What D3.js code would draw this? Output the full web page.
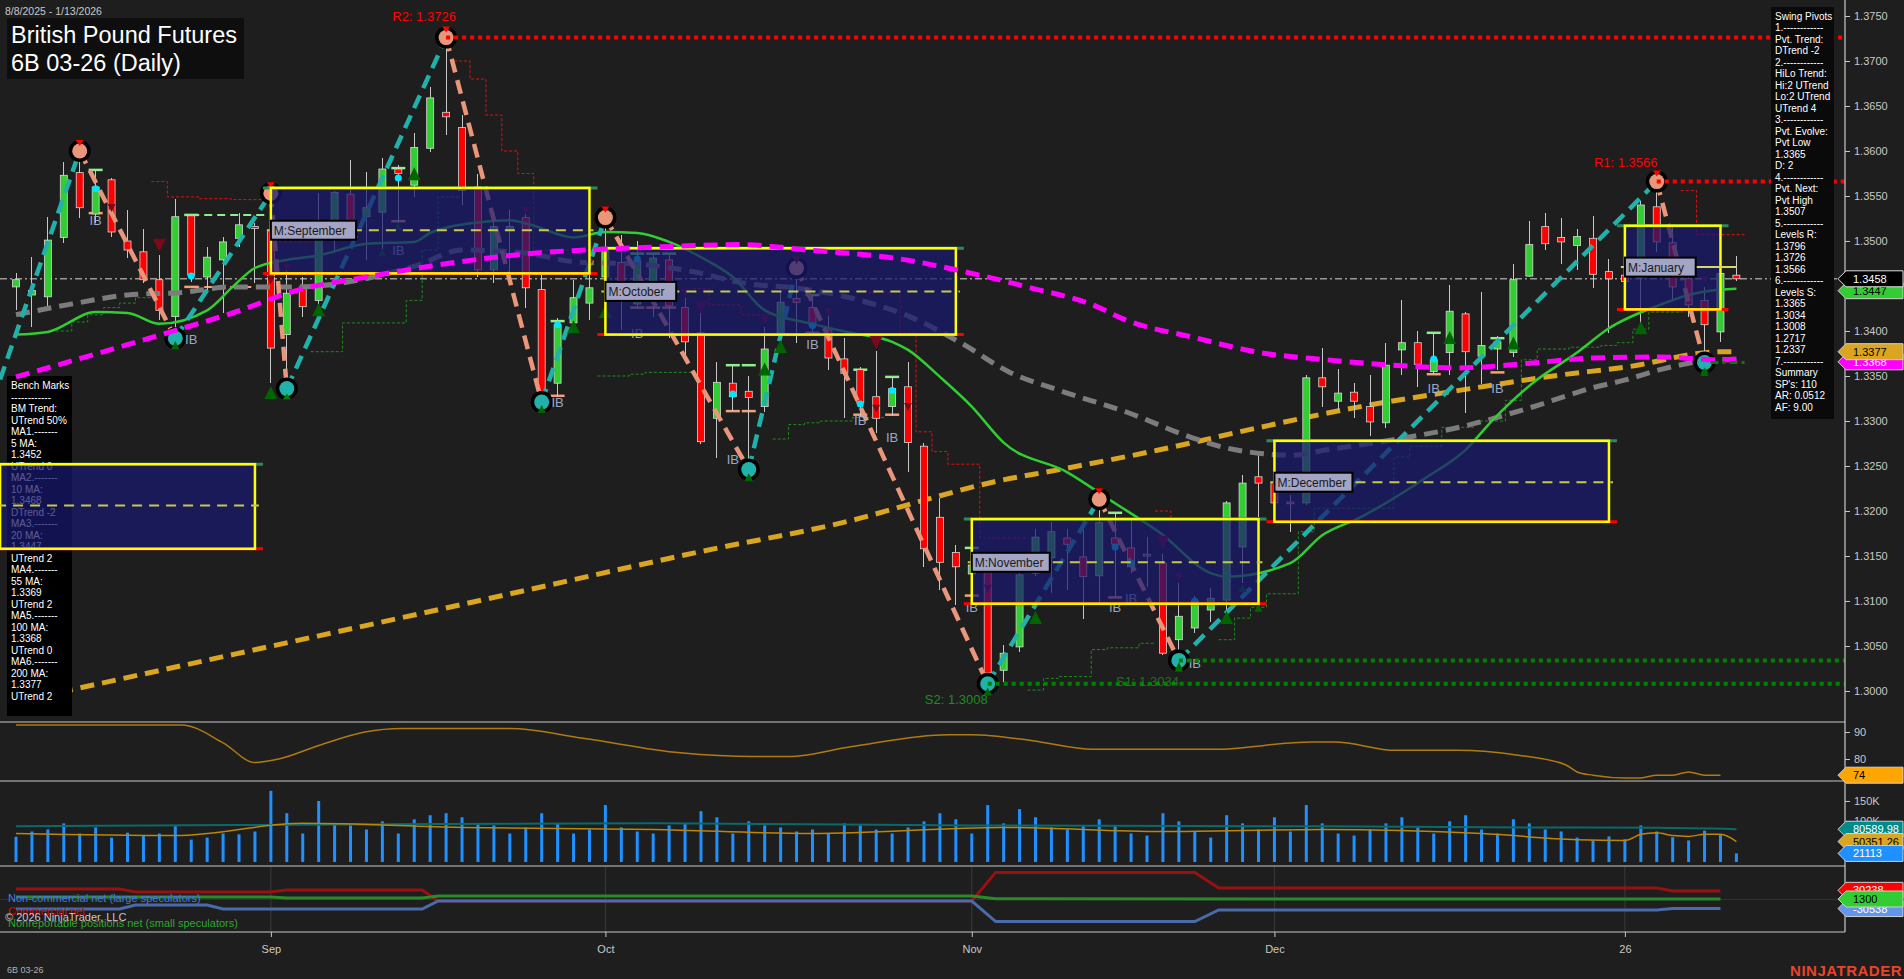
<!DOCTYPE html>
<html><head><meta charset="utf-8">
<script src="https://cdn.jsdelivr.net/npm/d3@7"></script>
<style>
body{margin:0;background:#1e1e1e;overflow:hidden}
svg{display:block}
text{font-family:"Liberation Sans",Arial,sans-serif}
</style></head>
<body><svg id="c" width="1904" height="979"></svg>
<script>
// ---------------- DATA ----------------
const dates = ["2025-08-08","2025-08-11","2025-08-12","2025-08-13","2025-08-14","2025-08-15","2025-08-18","2025-08-19","2025-08-20","2025-08-21","2025-08-22","2025-08-25","2025-08-26","2025-08-27","2025-08-28","2025-08-29",
"2025-09-02","2025-09-03","2025-09-04","2025-09-05","2025-09-08","2025-09-09","2025-09-10","2025-09-11","2025-09-12","2025-09-15","2025-09-16","2025-09-17","2025-09-18","2025-09-19","2025-09-22","2025-09-23","2025-09-24","2025-09-25","2025-09-26","2025-09-29","2025-09-30",
"2025-10-01","2025-10-02","2025-10-03","2025-10-06","2025-10-07","2025-10-08","2025-10-09","2025-10-10","2025-10-13","2025-10-14","2025-10-15","2025-10-16","2025-10-17","2025-10-20","2025-10-21","2025-10-22","2025-10-23","2025-10-24","2025-10-27","2025-10-28","2025-10-29","2025-10-30","2025-10-31",
"2025-11-03","2025-11-04","2025-11-05","2025-11-06","2025-11-07","2025-11-10","2025-11-11","2025-11-12","2025-11-13","2025-11-14","2025-11-17","2025-11-18","2025-11-19","2025-11-20","2025-11-21","2025-11-24","2025-11-25","2025-11-26","2025-11-28",
"2025-12-01","2025-12-02","2025-12-03","2025-12-04","2025-12-05","2025-12-08","2025-12-09","2025-12-10","2025-12-11","2025-12-12","2025-12-15","2025-12-16","2025-12-17","2025-12-18","2025-12-19","2025-12-22","2025-12-23","2025-12-24","2025-12-26","2025-12-29","2025-12-30","2025-12-31",
"2026-01-02","2026-01-05","2026-01-06","2026-01-07","2026-01-08","2026-01-09","2026-01-12","2026-01-13"];

const open  = [1.3449,1.3440,1.3438,1.3504,1.3576,1.3530,1.3568,1.3500,1.3488,1.3457,1.3416,1.3528,1.3460,1.3479,1.3503,1.3516,
1.3512,1.3396,1.3449,1.3434,1.3520,1.3552,1.3527,1.3532,1.3580,1.3562,1.3603,1.3643,1.3626,1.3560,1.3468,1.3512,1.3526,1.3446,1.3342,1.3409,1.3431,
1.3460,1.3476,1.3430,1.3453,1.3479,1.3426,1.3398,1.3303,1.3342,1.3333,1.3316,1.3398,1.3436,1.3426,1.3401,1.3369,1.3357,1.3327,1.3316,1.3338,1.3272,1.3193,1.3154,
1.3130,1.3137,1.3023,1.3049,1.3131,1.3148,1.3170,1.3149,1.3128,1.3170,1.3159,1.3152,1.3142,1.3057,1.3070,1.3090,1.3101,1.3160,1.3238,
1.3232,1.3210,1.3209,1.3348,1.3322,1.3332,1.3316,1.3298,1.3379,1.3387,1.3355,1.3376,1.3419,1.3372,1.3380,1.3376,1.3461,1.3516,1.3504,1.3495,1.3503,1.3466,
1.3462,1.3459,1.3538,1.3498,1.3458,1.3434,1.3399,1.3462];
const high  = [1.3464,1.3482,1.3527,1.3588,1.3600,1.3580,1.3570,1.3534,1.3513,1.3484,1.3547,1.3530,1.3493,1.3504,1.3531,1.3520,
1.3553,1.3470,1.3460,1.3553,1.3556,1.3590,1.3577,1.3592,1.3585,1.3620,1.3671,1.3726,1.3640,1.3575,1.3530,1.3535,1.3535,1.3465,1.3414,1.3457,1.3490,
1.3526,1.3507,1.3500,1.3487,1.3484,1.3437,1.3420,1.3366,1.3362,1.3350,1.3404,1.3443,1.3470,1.3440,1.3420,1.3392,1.3360,1.3378,1.3349,1.3366,1.3276,1.3214,1.3162,
1.3157,1.3145,1.3051,1.3131,1.3180,1.3188,1.3180,1.3190,1.3213,1.3198,1.3192,1.3171,1.3152,1.3120,1.3106,1.3115,1.3211,1.3240,1.3264,
1.3245,1.3218,1.3351,1.3381,1.3358,1.3342,1.3351,1.3387,1.3434,1.3400,1.3398,1.3451,1.3421,1.3443,1.3394,1.3474,1.3522,1.3531,1.3526,1.3513,1.3528,1.3480,
1.3476,1.3545,1.3566,1.3516,1.3471,1.3449,1.3466,1.3483];
const low   = [1.3423,1.3404,1.3427,1.3498,1.3526,1.3520,1.3504,1.3481,1.3453,1.3412,1.3392,1.3455,1.3446,1.3420,1.3493,1.3453,
1.3342,1.3336,1.3416,1.3423,1.3487,1.3515,1.3479,1.3487,1.3520,1.3549,1.3599,1.3618,1.3540,1.3460,1.3453,1.3453,1.3426,1.3321,1.3327,1.3398,1.3412,
1.3430,1.3401,1.3426,1.3416,1.3392,1.3371,1.3275,1.3259,1.3311,1.3246,1.3310,1.3390,1.3387,1.3398,1.3357,1.3303,1.3304,1.3287,1.3306,1.3243,1.3138,1.3112,1.3096,
1.3110,1.3008,1.3010,1.3043,1.3128,1.3109,1.3112,1.3080,1.3097,1.3104,1.3131,1.3116,1.3040,1.3034,1.3065,1.3077,1.3090,1.3120,1.3193,
1.3195,1.3177,1.3207,1.3316,1.3312,1.3303,1.3283,1.3292,1.3351,1.3338,1.3352,1.3351,1.3309,1.3341,1.3357,1.3371,1.3460,1.3490,1.3474,1.3468,1.3448,1.3398,
1.3440,1.3404,1.3488,1.3434,1.3416,1.3365,1.3388,1.3456];
const close = [1.3457,1.3445,1.3501,1.3573,1.3537,1.3560,1.3510,1.3490,1.3457,1.3423,1.3527,1.3462,1.3482,1.3499,1.3518,1.3514,
1.3381,1.3442,1.3427,1.3507,1.3554,1.3523,1.3537,1.3580,1.3575,1.3604,1.3659,1.3638,1.3556,1.3468,1.3516,1.3516,1.3448,1.3327,1.3407,1.3437,1.3448,
1.3490,1.3449,1.3478,1.3481,1.3428,1.3388,1.3277,1.3343,1.3327,1.3326,1.3380,1.3432,1.3432,1.3406,1.3370,1.3353,1.3320,1.3303,1.3336,1.3276,1.3158,1.3143,1.3138,
1.3140,1.3020,1.3042,1.3129,1.3171,1.3177,1.3163,1.3127,1.3187,1.3163,1.3138,1.3150,1.3042,1.3083,1.3100,1.3103,1.3209,1.3231,1.3231,
1.3209,1.3208,1.3348,1.3338,1.3331,1.3322,1.3299,1.3362,1.3387,1.3363,1.3368,1.3422,1.3377,1.3384,1.3388,1.3457,1.3496,1.3497,1.3499,1.3505,1.3463,1.3458,
1.3455,1.3540,1.3499,1.3449,1.3429,1.3407,1.3464,1.3458];

// moving averages read at sample bars: [bar, value]
const ma20 = [[0,1.3396],[2,1.3399],[5,1.3421],[7,1.3420],[9,1.3408],[12,1.3423],[13.6,1.3449],[15,1.3470],[17,1.3479],[19,1.3484],[22,1.3497],[25,1.3499],[26,1.3509],[28.7,1.3520],[31,1.3523],[32.3,1.3518],[35,1.3504],[37,1.3510],[39,1.3509],[41,1.3499],[43,1.3482],[45,1.3460],[47,1.3423],[49.7,1.3409],[52.4,1.3398],[55,1.3388],[56,1.3379],[58,1.3349],[60,1.3316],[62,1.3276],[66,1.3243],[68.7,1.3212],[71.8,1.3176],[75,1.3131],[76,1.3127],[80,1.3142],[82,1.3173],[84.4,1.3193],[88.6,1.3238],[91,1.3268],[92.7,1.3301],[95.2,1.3342],[98,1.3376],[100,1.3403],[103.2,1.3429],[105,1.3440],[107,1.3446],[108,1.3447]];
const ma55 = [[0,1.3349],[5.3,1.3376],[9.5,1.3398],[13.6,1.3420],[17.8,1.3446],[22,1.3460],[27.9,1.3477],[32.9,1.3487],[37.1,1.3491],[41.2,1.3494],[45.4,1.3496],[49.7,1.3490],[55.5,1.3480],[60.5,1.3462],[63.7,1.3448],[67.6,1.3429],[69.7,1.3412],[73.9,1.3393],[78.1,1.3376],[82.3,1.3368],[86.4,1.3362],[90.6,1.3359],[94.9,1.3364],[99,1.3370],[103.2,1.3371],[107,1.3368],[108,1.3369]];
const ma100 = [[0,1.3418],[3.2,1.3429],[7,1.3440],[10.5,1.3443],[13.6,1.3449],[17.4,1.3449],[25.2,1.3473],[28,1.3490],[31.8,1.3487],[35,1.3477],[39.2,1.3474],[42.5,1.3466],[45.4,1.3454],[49.7,1.3446],[53,1.3434],[56.1,1.3416],[59.3,1.3387],[62.4,1.3354],[65.5,1.3334],[69.7,1.3310],[73.9,1.3281],[76,1.3270],[80.2,1.3262],[82.3,1.3268],[86.4,1.3279],[90.6,1.3293],[94.9,1.3314],[99,1.3337],[101.1,1.3346],[103.2,1.3357],[107,1.3368],[108,1.3368]];
const ma200 = [[0,1.2988],[14,1.3042],[29.5,1.3102],[43,1.3155],[53,1.3192],[57,1.3212],[61.3,1.3232],[65.5,1.3246],[71.8,1.3268],[78.1,1.3293],[84.4,1.3316],[90.6,1.3334],[96.9,1.3351],[101.1,1.3360],[107,1.3377],[108,1.3377]];

// swing pivots [bar, price]
const swings = [[-1,1.3346],[4,1.3600],[10,1.3392],[16,1.3553],[17,1.3336],[27,1.3726],[33,1.3321],[37,1.3526],[46,1.3246],[49,1.3470],[61,1.3008],[68,1.3213],[73,1.3034],[103,1.3566],[106,1.3365]];

// monthly range boxes
const boxStart = [-1,16,37,60,79,101];
const boxEnd   = [15,36,59,78,100,107];
const boxHigh  = [1.3252,1.3559,1.3492,1.3191,1.3278,1.3517];
const boxLow   = [1.3158,1.3464,1.3396,1.3097,1.3188,1.3424];
const boxMid   = [1.3206,1.3512,1.3444,1.3143,1.3232,1.3471];
const boxNames = ["","M:September","M:October","M:November","M:December","M:January"];

// trailing step lines [bar, price]
const supportSteps = [
 [[2.5,1.3400],[3.5,1.3410],[4.5,1.3418],[5.5,1.3426],[6.5,1.3431],[7.5,1.3437],[8.6,1.3437]],
 [[18.5,1.3377],[20.5,1.3409],[24.5,1.3434],[25.5,1.3490],[26.5,1.3549],[27.9,1.3549]],
 [[36.5,1.3350],[38.5,1.3352],[39.5,1.3354],[42.5,1.3354]],
 [[47.5,1.3280],[48.5,1.3296],[49.5,1.3298],[50.5,1.3300],[52.5,1.3304],[54.5,1.3304]],
 [[63.5,1.3001],[64.5,1.3014],[65.5,1.3016],[67.5,1.3046],[68.5,1.3048],[70.5,1.3053],[71.5,1.3053]],
 [[75.5,1.3057],[76.5,1.3081],[77.5,1.3093],[78.5,1.3108],[80.5,1.3177],[81.5,1.3203],[86.5,1.3260],[87.5,1.3272],[89.5,1.3293],[91.5,1.3300],[93.5,1.3323],[94.5,1.3368],[95.5,1.3380],[97.5,1.3382],[99.5,1.3384],[100.5,1.3387],[101.5,1.3402],[102.5,1.3421],[104.6,1.3421]]
];
const resistSteps = [
 [[8.5,1.3566],[9.5,1.3549],[11.5,1.3547],[13.5,1.3546],[15.6,1.3546]],
 [[16.5,1.3499],[18.5,1.3499]],
 [[27.5,1.3700],[28.5,1.3680],[29.5,1.3640],[30.5,1.3600],[31.5,1.3575],[32.5,1.3490],[36.5,1.3490]],
 [[42.5,1.3447],[43.5,1.3429],[45.5,1.3418],[47.5,1.3418]],
 [[53.5,1.3443],[55.5,1.3398],[56.5,1.3288],[57.5,1.3266],[58.5,1.3252],[60.5,1.3170],[63.5,1.3170]],
 [[71.5,1.3200],[72.5,1.3190],[75.5,1.3190]],
 [[104.5,1.3556],[105.5,1.3507],[108.6,1.3507]]
];

// signal markers [bar, price, size]
const downMarks = [[6,1.3537,8],[9,1.3496,13],[16,1.3457,8],[17,1.3471,8],[32,1.3534,8],[36,1.3476,8],[42,1.3443,8],[43,1.3427,13],[47,1.3412,8],[49,1.3479,8],[51,1.3421,8],[54,1.3388,13],[54,1.3314,8],[56,1.3316,8],[61,1.3114,8],[72,1.3166,13],[73,1.3127,8],[106,1.3457,8]];
const upMarks = [[10,1.3384,8],[16,1.3331,13],[19,1.3423,13],[23,1.3487,8],[24,1.3516,8],[25,1.3574,13],[33,1.3313,8],[35,1.3404,13],[37,1.3421,13],[46,1.3237,8],[47,1.3357,13],[48,1.3382,13],[61,1.2999,8],[64,1.3081,13],[73,1.3027,8],[76,1.3081,13],[77,1.3114,8],[78,1.3092,8],[90,1.3392,13],[94,1.3386,13],[102,1.3403,13],[106,1.3354,8]];
const cyanDots = [[5,1.3558],[11,1.3461],[24,1.3570],[34,1.3407],[39,1.3480],[45,1.3330],[50,1.3406],[53,1.3319],[55,1.3334],[69,1.3160],[70,1.3142],[74,1.3100],[89,1.3369]];
const ibLabels = [[5,1.3523],[11,1.3391],[24,1.3490],[34,1.3321],[39,1.3398],[45,1.3258],[50,1.3386],[53,1.3301],[55,1.3282],[60,1.3093],[69,1.3093],[70,1.3103],[74,1.3031],[89,1.3337],[93,1.3337]];
const ibBar = [5,11,24,34,39,40,41,45,46,50,53,55,60,69,89,93];
const ibHigh = [1.3579,1.3529,1.3581,1.3411,1.3486,1.3486,1.3486,1.3362,1.3362,1.3440,1.3357,1.3349,1.3159,1.3198,1.3398,1.3392];
const ibLow  = [1.3531,1.3449,1.3522,1.3328,1.3426,1.3426,1.3426,1.3311,1.3311,1.3398,1.3307,1.3307,1.3106,1.3104,1.3352,1.3354];

// levels
const levelNames = ["R2: 1.3726","R1: 1.3566","S2: 1.3008","S1: 1.3034"];
const levelValues = [1.3726,1.3566,1.3008,1.3034];
const levelBars = [27,103,61,73];
const lastPrice = 1.3458;
const priceTicks = [1.3000,1.3050,1.3100,1.3150,1.3200,1.3250,1.3300,1.3350,1.3400,1.3450,1.3500,1.3550,1.3600,1.3650,1.3700,1.3750];
const monthBars = [16,37,60,79,101];
const monthLabels = ["Sep","Oct","Nov","Dec","26"];

// sub panel 1 oscillator [bar, value]
const osc = [[0,92.6],[10.4,92.6],[13,86],[15,78.7],[16.5,80],[19,85],[21.9,90],[24.2,91.3],[31,91.3],[35.6,87.7],[41.7,82.3],[46.3,80.9],[48.5,80.9],[52.4,84.5],[58.5,89],[60,89],[63.8,86.8],[67.6,83.6],[75.2,83.6],[81.3,86.3],[82.8,86.3],[86.6,83.2],[90.5,83.2],[94.3,81.4],[97.3,77.8],[98,75.2],[99,74],[101,73],[102,73],[103,74],[104,74],[105,75.2],[106,74],[107,74]];
// sub panel 2 volume (contracts)
const volume = [62000,75000,80000,95000,70000,85000,60000,72000,65000,70000,88000,55000,60000,70000,68000,75000,
175000,120000,70000,150000,95000,90000,80000,100000,70000,105000,115000,120000,110000,95000,90000,70000,85000,120000,95000,70000,80000,
140000,85000,75000,70000,90000,95000,125000,110000,70000,100000,90000,85000,75000,80000,70000,95000,90000,80000,70000,85000,100000,120000,105000,
70000,140000,95000,130000,110000,85000,80000,90000,105000,90000,70000,65000,120000,100000,75000,60000,115000,95000,80000,
110000,75000,140000,95000,70000,65000,80000,95000,110000,85000,70000,100000,115000,80000,70000,105000,95000,80000,75000,60000,53000,63000,
56000,90000,75000,61000,53000,77000,68000,21113];
const volAvgLong = [[0,88000],[20,92000],[40,95000],[60,90000],[80,88000],[95,85000],[103,84000],[108,80590]];
const volAvgShort = [[0,70000],[10,65000],[18,95000],[28,85000],[40,80000],[50,70000],[62,85000],[72,75000],[82,80000],[92,70000],[98,55000],[101,53000],[102,68000],[103,72000],[104,65000],[105,63000],[106,68000],[107,68000],[108,50351]];
// sub panel 3 COT nets [bar, value]
const cotCommercial = [[0,34700],[6.5,34700],[7.5,24700],[16,24700],[17,31300],[25.5,31300],[26.5,-5300],[60,-5300],[61.5,90000],[74,90000],[75.5,38000],[103,38000],[104,28000],[107,28000]];
const cotLarge = [[0,-32000],[6.5,-32000],[7.5,-18700],[12,-18700],[13,-32000],[25.5,-32000],[26.5,-5300],[60,-5300],[61.5,-74000],[74,-74000],[75.5,-35000],[103,-35000],[104,-30538],[107,-30538]];
const cotSmall = [[0,8000],[16,8000],[17,4700],[25.5,4700],[26.5,11300],[60,11300],[61.5,2000],[107,1300]];

const benchLines = ["Bench Marks","------------","BM Trend:","UTrend 50%","MA1.-------","5 MA:","1.3452","UTrend 0","MA2.-------","10 MA:","1.3468","DTrend -2","MA3.-------","20 MA:","1.3447","UTrend 2","MA4.-------","55 MA:","1.3369","UTrend 2","MA5.-------","100 MA:","1.3368","UTrend 0","MA6.-------","200 MA:","1.3377","UTrend 2"];
const pivotLines = ["Swing Pivots","1.------------","Pvt. Trend:","DTrend -2","2.------------","HiLo Trend:","Hi:2 UTrend","Lo:2 UTrend","UTrend 4","3.------------","Pvt. Evolve:","Pvt Low","1.3365","D: 2","4.------------","Pvt. Next:","Pvt High","1.3507","5.------------","Levels R:","1.3796","1.3726","1.3566","6.------------","Levels S:","1.3365","1.3034","1.3008","1.2717","1.2337","7.------------","Summary","SP's: 110","AR: 0.0512","AF: 9.00"];

// ---------------- DRAW ----------------
const svg = d3.select("#c");
const AX = 1845, MAIN_B = 722;
const x = d3.scaleLinear().domain([0,108]).range([16,1736.4]);
const y = d3.scaleLinear().domain([1.3000,1.3750]).range([691,16]);
const yOsc = d3.scaleLinear().domain([80,90]).range([759,732]);
const yVol = d3.scaleLinear().domain([0,150000]).range([862,801]);
const yCot = d3.scaleLinear().domain([0,30000]).range([899.4,890.4]);

svg.append("rect").attr("width",1904).attr("height",979).attr("fill","#1e1e1e");
const defs = svg.append("defs");
defs.append("clipPath").attr("id","mainClip").append("rect").attr("x",0).attr("y",0).attr("width",AX).attr("height",MAIN_B);
defs.append("clipPath").attr("id","p1Clip").append("rect").attr("x",0).attr("y",MAIN_B).attr("width",AX).attr("height",59);
defs.append("clipPath").attr("id","p2Clip").append("rect").attr("x",0).attr("y",781).attr("width",AX).attr("height",85);
defs.append("clipPath").attr("id","p3Clip").append("rect").attr("x",0).attr("y",866).attr("width",AX).attr("height",66);

const main = svg.append("g").attr("clip-path","url(#mainClip)");
const smooth = d3.line().curve(d3.curveMonotoneX).x(d=>x(d[0])).y(d=>y(d[1]));

// last price dash-dot line
main.append("line").attr("x1",0).attr("x2",AX).attr("y1",y(lastPrice)).attr("y2",y(lastPrice))
  .attr("stroke","#9a9a9a").attr("stroke-width",1.5).attr("stroke-dasharray","7,3,2,3");

// step lines
const stepLine = d3.line().curve(d3.curveStepAfter).x(d=>x(d[0])).y(d=>y(d[1]));
main.selectAll("path.sup").data(supportSteps).join("path").attr("class","sup").attr("d",stepLine)
  .attr("fill","none").attr("stroke","#1f8a1f").attr("stroke-width",1).attr("stroke-dasharray","3,2");
main.selectAll("path.res").data(resistSteps).join("path").attr("class","res").attr("d",stepLine)
  .attr("fill","none").attr("stroke","#e01010").attr("stroke-width",1).attr("stroke-dasharray","3,2");

// 200 MA (under bench panel)
main.append("path").attr("d",smooth(ma200)).attr("fill","none").attr("stroke","#daa520").attr("stroke-width",5).attr("stroke-dasharray","14,8");

// Bench marks panel
const bm = main.append("g");
bm.append("rect").attr("x",7).attr("y",376).attr("width",65).attr("height",340).attr("fill","#000");
bm.selectAll("text").data(benchLines).join("text")
  .attr("x",11).attr("y",(d,i)=>389+i*11.5).attr("fill","#fff").attr("font-size",10).text(d=>d);

// inside bar ticks
const ibg = main.append("g");
ibBar.forEach((b,k)=>{
  ibg.append("line").attr("x1",x(b)-7).attr("x2",x(b)+7).attr("y1",y(ibHigh[k])).attr("y2",y(ibHigh[k])).attr("stroke","#90ee90").attr("stroke-width",2.5);
  ibg.append("line").attr("x1",x(b)-7).attr("x2",x(b)+7).attr("y1",y(ibLow[k])).attr("y2",y(ibLow[k])).attr("stroke","#f4a07a").attr("stroke-width",2.5);
});
ibg.append("line").attr("x1",x(11)).attr("x2",x(15.6)).attr("y1",y(ibHigh[1])).attr("y2",y(ibHigh[1])).attr("stroke","#90ee90").attr("stroke-width",2).attr("stroke-dasharray","8,5");
ibg.append("line").attr("x1",x(11)).attr("x2",x(15.6)).attr("y1",y(ibLow[1])).attr("y2",y(ibLow[1])).attr("stroke","#f4a07a").attr("stroke-width",2).attr("stroke-dasharray","8,5");

// candles
const cg = main.append("g");
dates.forEach((d,i)=>{
  const cx = x(i);
  cg.append("line").attr("x1",cx).attr("x2",cx).attr("y1",y(high[i])).attr("y2",y(low[i]))
    .attr("stroke","#c8c8c8").attr("stroke-width",1).attr("shape-rendering","crispEdges");
  const top = y(Math.max(open[i],close[i])), bot = y(Math.min(open[i],close[i]));
  cg.append("rect").attr("x",cx-3.5).attr("y",top).attr("width",7).attr("height",Math.max(1.5,bot-top))
    .attr("fill",close[i]>=open[i]?"#32cd32":"#ff0000").attr("stroke","#d8d8d8").attr("stroke-width",0.8);
});

// MAs under boxes
main.append("path").attr("d",smooth(ma100)).attr("fill","none").attr("stroke","#7c7c7c").attr("stroke-width",5).attr("stroke-dasharray","14,8");
main.append("path").attr("d",smooth(ma20)).attr("fill","none").attr("stroke","#32cd32").attr("stroke-width",2.5);

// zigzag
const zz = main.append("g");
for(let k=0;k<swings.length-1;k++){
  const a=swings[k], b=swings[k+1];
  zz.append("line").attr("x1",x(a[0])).attr("y1",y(a[1])).attr("x2",x(b[0])).attr("y2",y(b[1]))
    .attr("stroke", b[1]>a[1] ? "#20b2aa" : "#e9967a").attr("stroke-width",4.5).attr("stroke-dasharray","14,8");
}
swings.slice(1).forEach((s,k)=>{
  const isHigh = k%2===0;
  zz.append("circle").attr("cx",x(s[0])).attr("cy",y(s[1])).attr("r",11).attr("fill","#000");
  zz.append("circle").attr("cx",x(s[0])).attr("cy",y(s[1])).attr("r",7.5).attr("fill",isHigh?"#e9967a":"#20b2aa");
  if(isHigh){
    zz.append("path").attr("d",`M${x(s[0])-4},${y(s[1])-11}L${x(s[0])+4},${y(s[1])-11}L${x(s[0])},${y(s[1])-5}Z`).attr("fill","#ff0000");
  } else {
    zz.append("path").attr("d",`M${x(s[0])-4},${y(s[1])+11}L${x(s[0])+4},${y(s[1])+11}L${x(s[0])},${y(s[1])+5}Z`).attr("fill","#008000");
  }
});

// markers
const mk = main.append("g");
downMarks.forEach(m=>{ const cx=x(m[0]), cy=y(m[1]), s=m[2];
  mk.append("path").attr("d",`M${cx-s/2},${cy-s*0.45}L${cx+s/2},${cy-s*0.45}L${cx},${cy+s*0.55}Z`).attr("fill","#7a0a1a"); });
upMarks.forEach(m=>{ const cx=x(m[0]), cy=y(m[1]), s=m[2];
  mk.append("path").attr("d",`M${cx-s/2},${cy+s*0.45}L${cx+s/2},${cy+s*0.45}L${cx},${cy-s*0.55}Z`).attr("fill","#006400"); });
cyanDots.forEach(m=>{ mk.append("circle").attr("cx",x(m[0])).attr("cy",y(m[1])).attr("r",3.5).attr("fill","#00e5ff"); });
ibLabels.forEach(m=>{ mk.append("text").attr("x",x(m[0])).attr("y",y(m[1])+5).attr("text-anchor","middle")
  .attr("font-size",13).attr("fill","#a9b8d8").attr("opacity",0.9).text("IB"); });

// boxes fill
const bx = main.append("g");
boxStart.forEach((s,k)=>{
  bx.append("rect").attr("x",x(s)).attr("y",y(boxHigh[k])).attr("width",x(boxEnd[k])-x(s)).attr("height",y(boxLow[k])-y(boxHigh[k]))
    .attr("fill","#191970").attr("fill-opacity",0.72);
});

// 55 MA over boxes
main.append("path").attr("d",smooth(ma55)).attr("fill","none").attr("stroke","#ff00ff").attr("stroke-width",5).attr("stroke-dasharray","14,8");

// box borders & labels
boxStart.forEach((s,k)=>{
  const x0=x(s), x1=x(boxEnd[k]), y0=y(boxHigh[k]), y1=y(boxLow[k]), ym=y(boxMid[k]);
  bx.append("line").attr("x1",x0-8).attr("x2",x1+8).attr("y1",y0).attr("y2",y0).attr("stroke","#2e8b57").attr("stroke-width",3);
  bx.append("line").attr("x1",x0-8).attr("x2",x1+8).attr("y1",y1).attr("y2",y1).attr("stroke","#ff0000").attr("stroke-width",3);
  bx.append("rect").attr("x",x0).attr("y",y0).attr("width",x1-x0).attr("height",y1-y0).attr("fill","none").attr("stroke","#ffff00").attr("stroke-width",2.5);
  bx.append("line").attr("x1",x0-4).attr("x2",x1+(k===5?16:4)).attr("y1",ym).attr("y2",ym)
    .attr("stroke",k===5?"#d8d860":"#c8c84a").attr("stroke-width",2).attr("stroke-dasharray",k===5?null:"10,7");
  if(boxNames[k]){
    const tw = boxNames[k].length*7.2+6;
    bx.append("rect").attr("x",x0).attr("y",ym-9.5).attr("width",tw).attr("height",19).attr("fill","#a4a4c4").attr("stroke","#000").attr("stroke-width",2);
    bx.append("text").attr("x",x0+3).attr("y",ym+4.5).attr("font-family","'Liberation Mono',monospace").attr("font-size",12)
      .attr("fill","#1a1a1a").text(boxNames[k]);
  }
});

// level lines
const lv = main.append("g");
levelValues.forEach((v,k)=>{
  const isR = k<2;
  lv.append("line").attr("x1",x(levelBars[k])).attr("x2",AX).attr("y1",y(v)).attr("y2",y(v))
    .attr("stroke",isR?"#ff0000":"#008000").attr("stroke-width",4).attr("stroke-dasharray","4,4");
});
lv.append("line").attr("x1",x(106)+6).attr("x2",x(108)+10).attr("y1",y(1.3365)).attr("y2",y(1.3365)).attr("stroke","#008000").attr("stroke-width",3).attr("stroke-dasharray","8,4,3,4");
lv.append("text").attr("x",x(27)-22).attr("y",21).attr("text-anchor","middle").attr("font-size",13).attr("fill","#ff0000").text(levelNames[0]);
lv.append("text").attr("x",x(103)-31).attr("y",y(1.3566)-15).attr("text-anchor","middle").attr("font-size",13).attr("fill","#ff0000").text(levelNames[1]);
lv.append("text").attr("x",x(61)).attr("y",y(1.3008)+20).attr("text-anchor","end").attr("font-size",13).attr("fill","#1e8c1e").text(levelNames[2]);
lv.append("text").attr("x",x(73)).attr("y",y(1.3034)+26).attr("text-anchor","end").attr("font-size",13).attr("fill","#1e8c1e").attr("opacity",0.75).text(levelNames[3]);

// title
const fmtDate = s => { const p = s.split("-"); return (+p[1])+"/"+(+p[2])+"/"+p[0]; };
svg.append("text").attr("x",5).attr("y",15).attr("font-size",10.5).attr("fill","#c8c8c8").text(fmtDate(dates[0])+" - "+fmtDate(dates[dates.length-1]));
svg.append("rect").attr("x",7).attr("y",18).attr("width",237).attr("height",61).attr("fill","#0e0e0e");
svg.append("text").attr("x",11).attr("y",43).attr("font-size",23.5).attr("fill","#fff").text("British Pound Futures");
svg.append("text").attr("x",11).attr("y",71).attr("font-size",23.5).attr("fill","#fff").text("6B 03-26 (Daily)");

// swing pivot panel
svg.append("rect").attr("x",1771).attr("y",7).attr("width",63).attr("height",412).attr("fill","#0a0a0a");
svg.selectAll("text.pv").data(pivotLines).join("text").attr("class","pv")
  .attr("x",1775).attr("y",(d,i)=>19.5+i*11.5).attr("font-size",10).attr("fill","#fff").text(d=>d);

// ---------- sub panels ----------
const p1 = svg.append("g").attr("clip-path","url(#p1Clip)");
p1.append("path").attr("d",d3.line().curve(d3.curveMonotoneX).x(d=>x(d[0])).y(d=>yOsc(d[1]))(osc)).attr("fill","none").attr("stroke","#b07a12").attr("stroke-width",1.5);
const p2 = svg.append("g").attr("clip-path","url(#p2Clip)");
p2.selectAll("rect").data(volume).join("rect").attr("x",(d,i)=>x(i)-1.5).attr("width",3).attr("y",d=>yVol(d)).attr("height",d=>yVol(0)-yVol(d)).attr("fill","#1e90ff");
p2.append("path").attr("d",d3.line().curve(d3.curveMonotoneX).x(d=>x(d[0])).y(d=>yVol(d[1]))(volAvgLong)).attr("fill","none").attr("stroke","#0a6a6a").attr("stroke-width",2);
p2.append("path").attr("d",d3.line().curve(d3.curveMonotoneX).x(d=>x(d[0])).y(d=>yVol(d[1]))(volAvgShort)).attr("fill","none").attr("stroke","#b8860b").attr("stroke-width",1.5);
const p3 = svg.append("g").attr("clip-path","url(#p3Clip)");
monthBars.forEach(b=>p3.append("line").attr("x1",x(b)).attr("x2",x(b)).attr("y1",866).attr("y2",932).attr("stroke","#3a3a3a"));
p3.append("line").attr("x1",0).attr("x2",AX).attr("y1",yCot(0)).attr("y2",yCot(0)).attr("stroke","#333");
const cotLine = d3.line().x(d=>x(d[0])).y(d=>yCot(d[1]));
p3.append("path").attr("d",cotLine(cotCommercial)).attr("fill","none").attr("stroke","#9a1010").attr("stroke-width",3);
p3.append("path").attr("d",cotLine(cotSmall)).attr("fill","none").attr("stroke","#2a8a2a").attr("stroke-width",3);
p3.append("path").attr("d",cotLine(cotLarge)).attr("fill","none").attr("stroke","#4a6aaa").attr("stroke-width",3);
svg.append("text").attr("x",8).attr("y",902).attr("font-size",11).attr("fill","#4a78e0").text("Non-commercial net (large speculators)");
svg.append("text").attr("x",8).attr("y",915).attr("font-size",11).attr("fill","#e00000").text("Commercial net");
svg.append("text").attr("x",5).attr("y",921).attr("font-size",11).attr("fill","#c8c8c8").text("© 2026 NinjaTrader, LLC");
svg.append("text").attr("x",8).attr("y",927).attr("font-size",11).attr("fill","#2ea82e").text("Nonreportable positions net (small speculators)");

// separators & axis line
[MAIN_B,781,866,932].forEach(v=>svg.append("line").attr("x1",0).attr("x2",AX).attr("y1",v).attr("y2",v).attr("stroke","#c8c8c8").attr("stroke-width",1.2));
svg.append("line").attr("x1",AX).attr("x2",AX).attr("y1",0).attr("y2",932).attr("stroke","#c8c8c8").attr("stroke-width",1.2);

const styleAxis = g=>{ g.select(".domain").remove(); g.selectAll("line").attr("stroke","#c8c8c8"); g.selectAll("text").attr("fill","#c8c8c8").attr("font-size",11).attr("font-family","'Liberation Sans',Arial,sans-serif"); };
svg.append("g").attr("transform",`translate(${AX},0)`).call(d3.axisRight(y).tickValues(priceTicks).tickFormat(d3.format(".4f")).tickSize(5).tickPadding(4)).call(styleAxis);
svg.append("g").attr("transform",`translate(${AX},0)`).call(d3.axisRight(yOsc).tickValues([80,90]).tickSize(5).tickPadding(4)).call(styleAxis);
svg.append("g").attr("transform",`translate(${AX},0)`).call(d3.axisRight(yVol).tickValues([100000,150000]).tickFormat(d=>d/1000+"K").tickSize(5).tickPadding(4)).call(styleAxis);
svg.append("g").attr("transform",`translate(${AX},0)`).call(d3.axisRight(yCot).tickValues([-30000,30000]).tickFormat(()=>"").tickSize(5)).call(styleAxis);
svg.append("g").attr("transform","translate(0,932)").call(d3.axisBottom(x).tickValues(monthBars).tickFormat((d,i)=>monthLabels[i]).tickSize(5).tickPadding(8)).call(styleAxis);

function tag(yc, label, fill, txt, stroke){
  const g = svg.append("g");
  g.append("path").attr("d",`M1838,${yc}L1846,${yc-8}L1903,${yc-8}L1903,${yc+8}L1846,${yc+8}Z`).attr("fill",fill).attr("stroke",stroke||"#d0d0d0").attr("stroke-width",1);
  g.append("text").attr("x",1853).attr("y",yc+4).attr("font-size",11).attr("fill",txt).text(label);
}
tag(y(1.3447)+2,"1.3447","#32cd32","#000");
tag(y(lastPrice),"1.3458","#000","#fff","#e0e0e0");
tag(y(1.3368)+2,"1.3368","#ff00ff","#fff");
tag(y(1.3377),"1.3377","#daa520","#000");
tag(yOsc(74),"74","#ffa500","#000");
tag(yVol(80590),"80589.98","#008b8b","#fff");
tag(yVol(50351),"50351.26","#daa520","#000");
tag(yVol(21113),"21113","#1e90ff","#fff");
tag(yCot(30238),"30238","#ff0000","#fff");
tag(yCot(-30538),"-30538","#6495ed","#fff");
tag(yCot(1300),"1300","#32cd32","#000");

svg.append("text").attr("x",7).attr("y",973).attr("font-size",9).attr("fill","#b0b0b0").text("6B 03-26");
svg.append("text").attr("x",1902).attr("y",976).attr("text-anchor","end").attr("font-size",15).attr("font-weight","bold").attr("fill","#e8452a").attr("letter-spacing",0.5).text("NINJATRADER");
</script></body></html>
